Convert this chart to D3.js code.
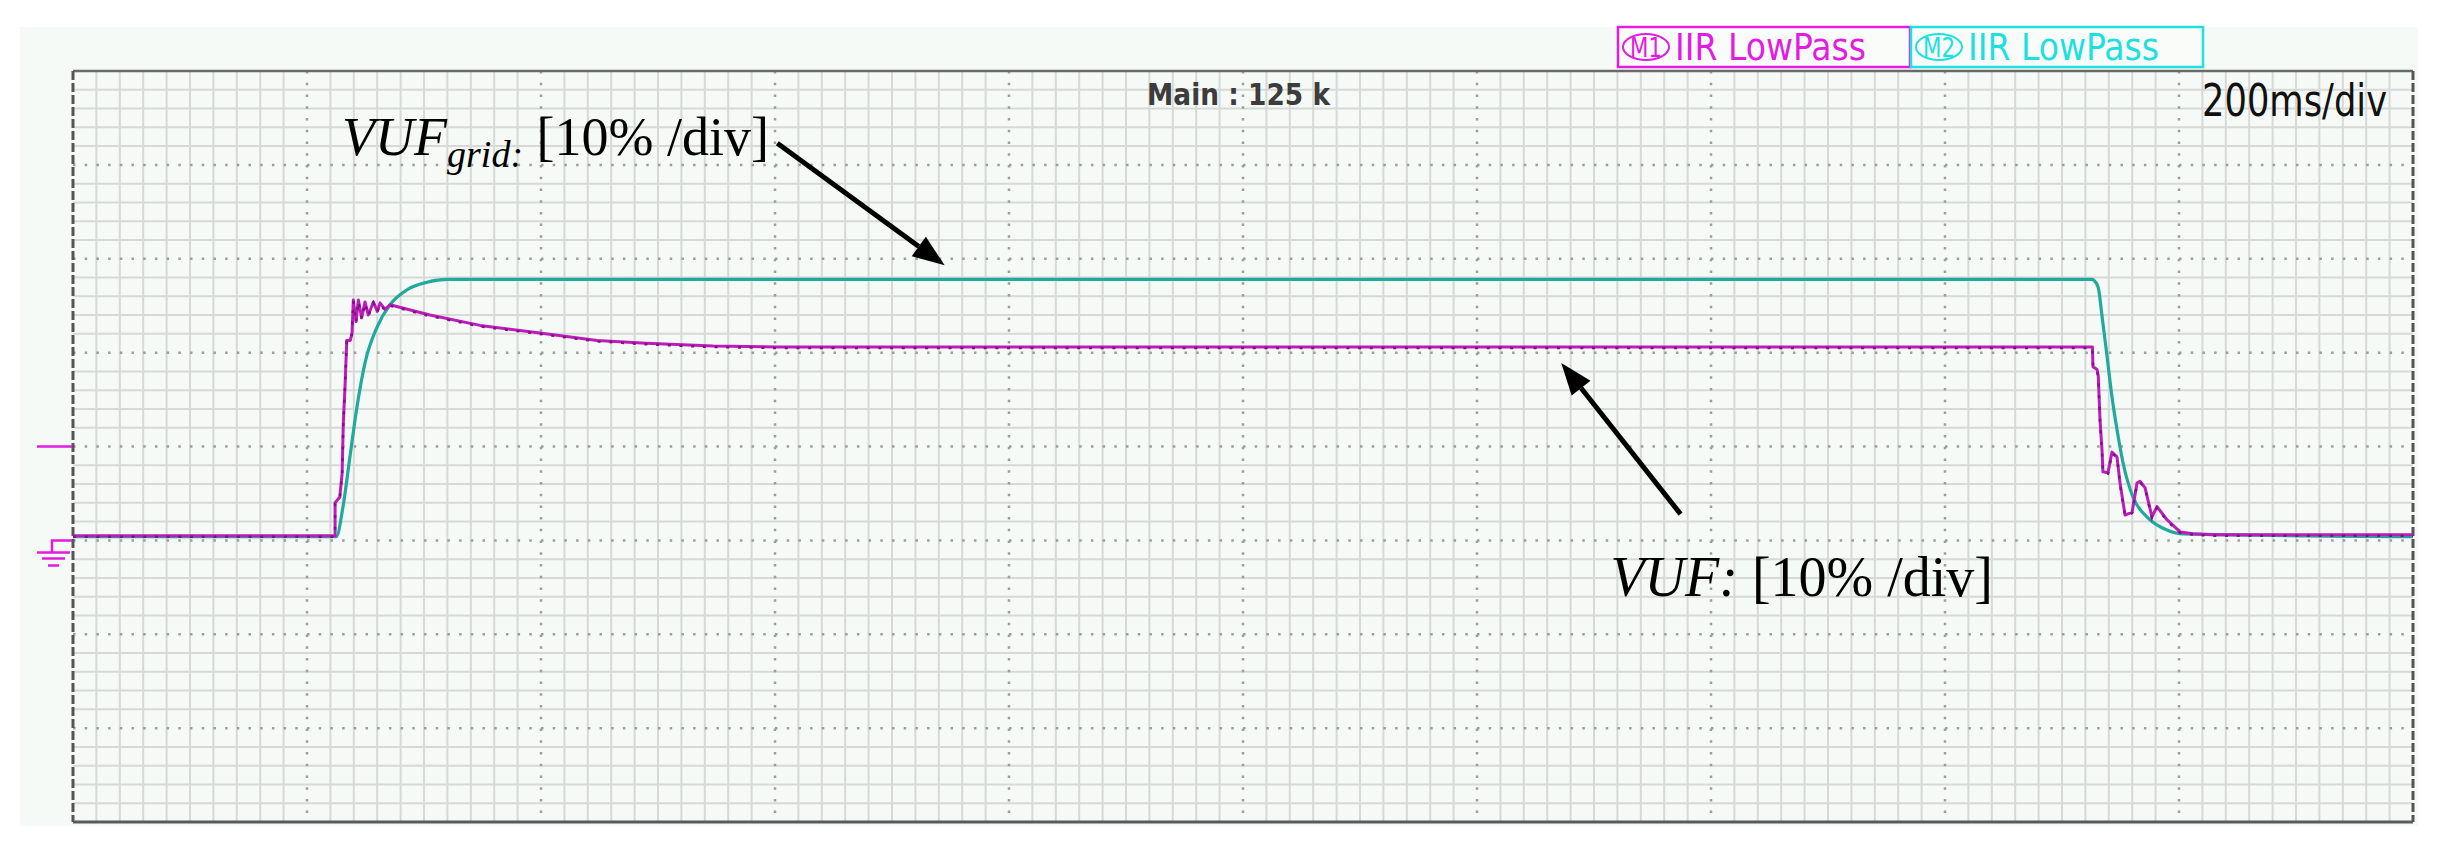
<!DOCTYPE html>
<html>
<head>
<meta charset="utf-8">
<script src="https://cdn.jsdelivr.net/npm/d3@7"></script>
<style>
  body { margin: 0; background: #fff; }
  svg { display: block; }
</style>
</head>
<body>
<svg id="canvas" width="2440" height="856"></svg>
<script>
// M1 trace: VUF (time in ms, value in %)
let vufTime  = [0, 224, 224, 228, 230, 231, 232.5, 234, 237, 238.5, 239.6, 241.9, 243.9, 246.7, 249.6, 252.4, 256.7, 260.1, 262.4, 266.7,
                270.9, 305, 348, 399, 448, 490, 547, 604, 1726, 1726.5, 1730, 1731, 1732.5, 1734.2, 1735, 1739.3, 1742.7, 1747, 1749.6, 1753.9,
                1759.9, 1764.1, 1766.7, 1771, 1776.9, 1781.2, 1789.7, 1800.9, 1812, 1829, 2000]
let vufValue = [0.5, 0.5, 4.0, 4.6, 7.1, 12.4, 16.4, 21.3, 21.3, 22.1, 25.6, 23.3, 25.6, 23.7, 25.4, 24.0, 25.4, 24.4, 25.3, 24.6,
                25.1, 24.0, 22.9, 22.1, 21.3, 21.0, 20.7, 20.6, 20.6, 18.5, 18.2, 17.5, 12.8, 9.6, 7.3, 7.2, 9.4, 8.9, 6.1, 2.7,
                3.0, 6.1, 6.3, 5.6, 2.5, 3.6, 2.2, 0.9, 0.7, 0.6, 0.6]

// M2 trace: VUF grid
let gridTime  = [0, 225, 230.8, 236.7, 242.7, 249.6, 259.8, 270.9, 285.5, 302.6, 319.7, 1725.6, 1730.8, 1734.2, 1738.5, 1742.7,
                 1747, 1752.1, 1760.7, 1772.6, 1789.7, 1802.6, 2000]
let gridValue = [0.4, 0.4, 3.6, 8.9, 14.2, 18.9, 22.7, 25.1, 26.7, 27.5, 27.8, 27.8, 27.0, 23.9, 19.6, 15.3,
                 11.8, 8.3, 4.6, 2.5, 1.1, 0.7, 0.4]

let legendLabels = ['M1', 'M2']
let legendTexts = ['IIR LowPass', 'IIR LowPass']

// annotation anchors in data units (ms, %)
let arrowFrom = [[602, 42.3], [1374, 2.8]]
let arrowTo   = [[745, 29.3], [1272, 18.9]]

let canvas = d3.select('#canvas')

let pLeft = 73, pRight = 2413, pTop = 71, pBottom = 822

let x = d3.scaleLinear().domain([0, 2000]).range([pLeft, pRight])
let y = d3.scaleLinear().domain([-30, 50]).range([pBottom, pTop])

// scope panel background
canvas.append('rect')
  .attr('x', 20).attr('y', 27).attr('width', 2398).attr('height', 799)
  .attr('fill', '#f6faf6')

// grid
let minorX = d3.range(0, 2001, 20).filter(t => t % 200 !== 0)
let majorX = d3.range(200, 2000, 200)
let minorY = d3.range(-30, 51, 2).filter(v => (v + 30) % 10 !== 0)
let majorY = d3.range(-20, 50, 10)

let grid = canvas.append('g')
grid.selectAll('.vminor').data(minorX).enter().append('line')
  .attr('x1', d => x(d)).attr('x2', d => x(d))
  .attr('y1', pTop).attr('y2', pBottom)
  .attr('stroke', '#d6d9d6').attr('stroke-width', 2)
grid.selectAll('.hminor').data(minorY).enter().append('line')
  .attr('y1', d => y(d)).attr('y2', d => y(d))
  .attr('x1', pLeft).attr('x2', pRight)
  .attr('stroke', '#d6d9d6').attr('stroke-width', 2)
grid.selectAll('.vmajor').data(majorX).enter().append('line')
  .attr('x1', d => x(d)).attr('x2', d => x(d))
  .attr('y1', pTop).attr('y2', pBottom)
  .attr('stroke', '#9b9e9b').attr('stroke-width', 2.5)
  .attr('stroke-dasharray', '2.5,9.24')
grid.selectAll('.hmajor').data(majorY).enter().append('line')
  .attr('y1', d => y(d)).attr('y2', d => y(d))
  .attr('x1', pLeft).attr('x2', pRight)
  .attr('stroke', '#9b9e9b').attr('stroke-width', 2.5)
  .attr('stroke-dasharray', '2.5,9.2')

// frame
canvas.append('line').attr('x1', pLeft).attr('x2', pRight).attr('y1', pTop).attr('y2', pTop)
  .attr('stroke', '#6a6a6a').attr('stroke-width', 2.5)
canvas.append('line').attr('x1', pLeft).attr('x2', pRight).attr('y1', pBottom).attr('y2', pBottom)
  .attr('stroke', '#5a5a5a').attr('stroke-width', 3)
canvas.selectAll('.edge').data([pLeft, pRight]).enter().append('line')
  .attr('x1', d => d).attr('x2', d => d).attr('y1', pTop).attr('y2', pBottom)
  .attr('stroke', '#555').attr('stroke-width', 3)
  .attr('stroke-dasharray', '9,3')

// channel markers at left
let marker = canvas.append('g').attr('stroke', '#e21ce2').attr('stroke-width', 2.5).attr('fill', 'none')
marker.append('line').attr('x1', 37).attr('x2', 72).attr('y1', y(10)).attr('y2', y(10))
marker.append('path')
  .attr('d', `M72,${y(0)} H52 V${y(0) + 12} M37,${y(0) + 12} H70 M42,${y(0) + 18} H65 M48,${y(0) + 25} H59`)

// traces
let line = d3.line().x(d => x(d[0])).y(d => y(d[1]))
let gridPts = gridTime.map((t, i) => [t, gridValue[i]])
let vufPts = vufTime.map((t, i) => [t, vufValue[i]])

canvas.append('path')
  .attr('d', line.curve(d3.curveMonotoneX)(gridPts))
  .attr('fill', 'none').attr('stroke', '#22a99e').attr('stroke-width', 3.2)
  .attr('stroke-linejoin', 'round')

line.curve(d3.curveLinear)
canvas.append('path')
  .attr('d', line(vufPts))
  .attr('fill', 'none').attr('stroke', '#bb1cbb').attr('stroke-width', 3)
  .attr('stroke-linejoin', 'round')
canvas.append('path')
  .attr('d', line(vufPts))
  .attr('fill', 'none').attr('stroke', '#7d157d').attr('stroke-width', 2.5)
  .attr('stroke-dasharray', '3,8.7')
  .attr('transform', 'translate(0,1)')

// scope texts
canvas.append('text')
  .attr('x', 1147).attr('y', 105)
  .attr('font-family', 'DejaVu Sans').attr('font-weight', 'bold')
  .attr('font-size', 30).attr('fill', '#3c3c3c')
  .attr('textLength', 183).attr('lengthAdjust', 'spacingAndGlyphs')
  .text('Main : 125 k')

canvas.append('text')
  .attr('x', 2202).attr('y', 116)
  .attr('font-family', 'DejaVu Sans')
  .attr('font-size', 45).attr('fill', '#111')
  .attr('textLength', 185).attr('lengthAdjust', 'spacingAndGlyphs')
  .text('200ms/div')

// legend boxes
let legColors = ['#e21ce2', '#1ee0e0']
let legX = [1618, 1911]
let leg = canvas.selectAll('.leg').data(legendLabels).enter().append('g')
  .attr('transform', (d, i) => `translate(${legX[i]},27)`)
leg.append('rect')
  .attr('x', 0).attr('y', 0).attr('width', 292).attr('height', 40)
  .attr('fill', '#fafcfa').attr('stroke', (d, i) => legColors[i]).attr('stroke-width', 2.5)
leg.append('ellipse')
  .attr('cx', 28).attr('cy', 20).attr('rx', 23).attr('ry', 13)
  .attr('fill', 'none').attr('stroke', (d, i) => legColors[i]).attr('stroke-width', 2)
leg.append('text')
  .attr('x', 28).attr('y', 30).attr('text-anchor', 'middle')
  .attr('font-family', 'DejaVu Sans').attr('font-size', 27)
  .attr('fill', (d, i) => legColors[i])
  .attr('textLength', 32).attr('lengthAdjust', 'spacingAndGlyphs')
  .text(d => d)
leg.append('text')
  .attr('x', 57).attr('y', 33)
  .attr('font-family', 'DejaVu Sans').attr('font-size', 38)
  .attr('fill', (d, i) => legColors[i])
  .attr('textLength', 191).attr('lengthAdjust', 'spacingAndGlyphs')
  .text((d, i) => legendTexts[i])

// annotations
let label1 = canvas.append('text')
  .attr('x', x(230)).attr('y', y(41))
  .attr('font-family', 'Liberation Serif').attr('font-size', 54).attr('fill', '#000')
label1.append('tspan').attr('font-style', 'italic').text('VUF')
label1.append('tspan').attr('font-style', 'italic').attr('font-size', 38).attr('dy', 12).text('grid:')
label1.append('tspan').attr('dy', -12).text(' [10% /div]')

let label2 = canvas.append('text')
  .attr('x', x(1314)).attr('y', y(-5.9))
  .attr('font-family', 'Liberation Serif').attr('font-size', 56).attr('fill', '#000')
label2.append('tspan').attr('font-style', 'italic').text('VUF:')
label2.append('tspan').text(' [10% /div]')

// arrows
arrowFrom.forEach((a, i) => {
  let x1 = x(a[0]), y1 = y(a[1])
  let x2 = x(arrowTo[i][0]), y2 = y(arrowTo[i][1])
  let ang = Math.atan2(y2 - y1, x2 - x1)
  let hl = 32, hw = 12
  let bx = x2 - hl * Math.cos(ang), by = y2 - hl * Math.sin(ang)
  canvas.append('line')
    .attr('x1', x1).attr('y1', y1).attr('x2', bx).attr('y2', by)
    .attr('stroke', '#000').attr('stroke-width', 5)
  canvas.append('path')
    .attr('d', `M${x2},${y2} L${bx - hw * Math.sin(ang)},${by + hw * Math.cos(ang)} L${bx + hw * Math.sin(ang)},${by - hw * Math.cos(ang)} Z`)
    .attr('fill', '#000')
})
</script>
</body>
</html>
